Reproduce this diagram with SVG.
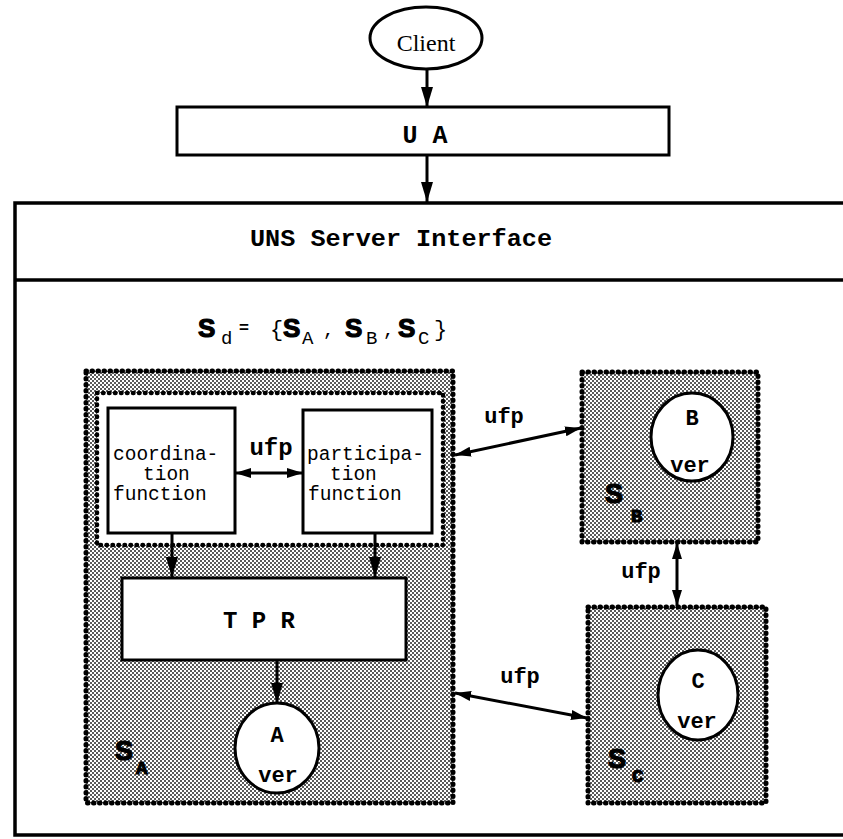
<svg xmlns="http://www.w3.org/2000/svg" width="843" height="839" viewBox="0 0 843 839">
<defs>
  <pattern id="shade" x="0" y="0" width="4" height="4" patternUnits="userSpaceOnUse">
    <rect width="4" height="4" fill="#ffffff"/>
    <rect width="2" height="2" fill="#5a5a5a"/>
    <rect x="2" y="2" width="2" height="2" fill="#5a5a5a"/>
  </pattern>
  <marker id="ah" viewBox="0 0 20 12" refX="20" refY="6" markerWidth="20" markerHeight="12" markerUnits="userSpaceOnUse" orient="auto-start-reverse">
    <path d="M0,0 L20,6 L0,12 Z" fill="#000"/>
  </marker>
  <marker id="ahs" viewBox="0 0 16 10" refX="16" refY="5" markerWidth="16" markerHeight="10" markerUnits="userSpaceOnUse" orient="auto-start-reverse">
    <path d="M0,0 L16,5 L0,10 Z" fill="#000"/>
  </marker>
</defs>
<style>
  .box { fill: #fff; stroke: #000; stroke-width: 3; }
  .frame { fill: none; stroke: #000; stroke-width: 3.5; }
  .server { fill: url(#shade); stroke: #000; stroke-width: 5; stroke-dasharray: 0.5 5.5; stroke-linecap: round; }
  .inner { fill: #fff; stroke: #000; stroke-width: 4.5; stroke-dasharray: 0.5 5.5; stroke-linecap: round; }
  .ver { fill: #fff; stroke: #000; stroke-width: 3; }
  .mono { font-family: "Liberation Mono", "Courier New", monospace; fill: #000; }
  .bmono { font-family: "Liberation Mono", "Courier New", monospace; font-weight: bold; fill: #000; }
  .bsans { font-family: "Liberation Sans", Arial, sans-serif; font-weight: bold; fill: #000; }
  .heavy { stroke: #000; stroke-width: 1.2; }
  .conn { stroke: #000; stroke-width: 3; fill: none; }
  .arr { marker-end: url(#ah); }
  .dbl { marker-start: url(#ahs); marker-end: url(#ahs); }
</style>

<g id="frame">
  <rect class="frame" x="15" y="203" width="840" height="632"/>
  <line class="frame" x1="15" y1="280" x2="843" y2="280"/>
</g>

<g id="uns-server-interface">
  <text class="bmono" x="401" y="246" font-size="24" text-anchor="middle" textLength="302" lengthAdjust="spacingAndGlyphs">UNS Server Interface</text>
</g>

<g id="client">
  <ellipse cx="426" cy="38" rx="56" ry="31" fill="#fff" stroke="#000" stroke-width="3"/>
  <text x="426" y="51" font-family="Liberation Serif, 'Times New Roman', serif" font-size="24" text-anchor="middle">Client</text>
</g>

<g id="ua">
  <rect class="box" x="177" y="107" width="492" height="48"/>
  <text class="bmono" x="425" y="143" font-size="25" text-anchor="middle">U A</text>
</g>

<g id="sd-label">
  <text class="bsans heavy" x="198" y="337" font-size="26">S</text>
  <text class="mono" x="221" y="344" font-size="19">d</text>
  <text class="bsans" x="239" y="333" font-size="17">=</text>
  <text class="mono" x="270" y="336" font-size="22">{</text>
  <text class="bsans heavy" x="283" y="337" font-size="26">S</text>
  <text class="mono" x="302" y="344" font-size="19">A</text>
  <text class="mono" x="323" y="336" font-size="19">,</text>
  <text class="bsans heavy" x="345" y="337" font-size="26">S</text>
  <text class="mono" x="366" y="344" font-size="19">B</text>
  <text class="mono" x="383" y="336" font-size="19">,</text>
  <text class="bsans heavy" x="398" y="337" font-size="26">S</text>
  <text class="mono" x="418" y="344" font-size="19">C</text>
  <text class="mono" x="434" y="336" font-size="22">}</text>
</g>

<g id="server-a">
  <rect class="server" x="86" y="371" width="367" height="432"/>
  <rect class="inner" x="97" y="393" width="346" height="152"/>
  <text class="bsans heavy" x="115" y="760" font-size="27">S</text>
  <text class="bmono heavy" x="136" y="774" font-size="19">A</text>
</g>

<g id="coordination-function">
  <rect class="box" x="108" y="408" width="127" height="125"/>
  <text class="mono" font-size="19.5">
    <tspan x="113" y="460">coordina-</tspan>
    <tspan x="143" y="480">tion</tspan>
    <tspan x="113" y="500">function</tspan>
  </text>
</g>

<g id="participation-function">
  <rect class="box" x="303" y="410" width="129" height="123"/>
  <text class="mono" font-size="19.5">
    <tspan x="307" y="460">participa-</tspan>
    <tspan x="330" y="480">tion</tspan>
    <tspan x="308" y="500">function</tspan>
  </text>
</g>

<g id="tpr">
  <rect class="box" x="122" y="578" width="284" height="82"/>
  <text class="bmono" x="259" y="628" font-size="24" text-anchor="middle">T P R</text>
</g>

<g id="ver-a">
  <ellipse class="ver" cx="277" cy="748" rx="42" ry="45"/>
  <text class="bmono" x="277" y="742" font-size="22" text-anchor="middle">A</text>
  <text class="bmono" x="278" y="782" font-size="22" text-anchor="middle">ver</text>
</g>

<g id="server-b">
  <rect class="server" x="582" y="372" width="176" height="170"/>
  <ellipse class="ver" cx="692" cy="437" rx="41" ry="44"/>
  <text class="bmono" x="692" y="425" font-size="22" text-anchor="middle">B</text>
  <text class="bmono" x="690" y="472" font-size="22" text-anchor="middle">ver</text>
  <text class="bsans heavy" x="605" y="503" font-size="27">S</text>
  <text class="bmono heavy" x="631" y="522" font-size="19">B</text>
</g>

<g id="server-c">
  <rect class="server" x="588" y="607" width="178" height="196"/>
  <ellipse class="ver" cx="698" cy="695" rx="40" ry="45"/>
  <text class="bmono" x="698" y="688" font-size="22" text-anchor="middle">C</text>
  <text class="bmono" x="697" y="728" font-size="22" text-anchor="middle">ver</text>
  <text class="bsans heavy" x="608" y="768" font-size="27">S</text>
  <text class="bmono heavy" x="632" y="782" font-size="19">C</text>
</g>

<g id="connectors">
  <line class="conn arr" x1="427" y1="69" x2="427" y2="107"/>
  <line class="conn arr" x1="427" y1="155" x2="427" y2="202"/>
  <line class="conn dbl" x1="235" y1="473" x2="303" y2="473"/>
  <text class="bmono" x="271" y="455" font-size="24" text-anchor="middle">ufp</text>
  <line class="conn arr" x1="172" y1="533" x2="172" y2="577"/>
  <line class="conn arr" x1="375" y1="533" x2="375" y2="577"/>
  <line class="conn arr" x1="277" y1="660" x2="277" y2="703"/>
  <line class="conn dbl" x1="455" y1="455" x2="581" y2="428"/>
  <text class="bmono" x="504" y="423" font-size="22" text-anchor="middle">ufp</text>
  <line class="conn dbl" x1="677" y1="543" x2="677" y2="606"/>
  <text class="bmono" x="641" y="578" font-size="22" text-anchor="middle">ufp</text>
  <line class="conn dbl" x1="455" y1="693" x2="587" y2="718"/>
  <text class="bmono" x="520" y="683" font-size="22" text-anchor="middle">ufp</text>
</g>
</svg>
